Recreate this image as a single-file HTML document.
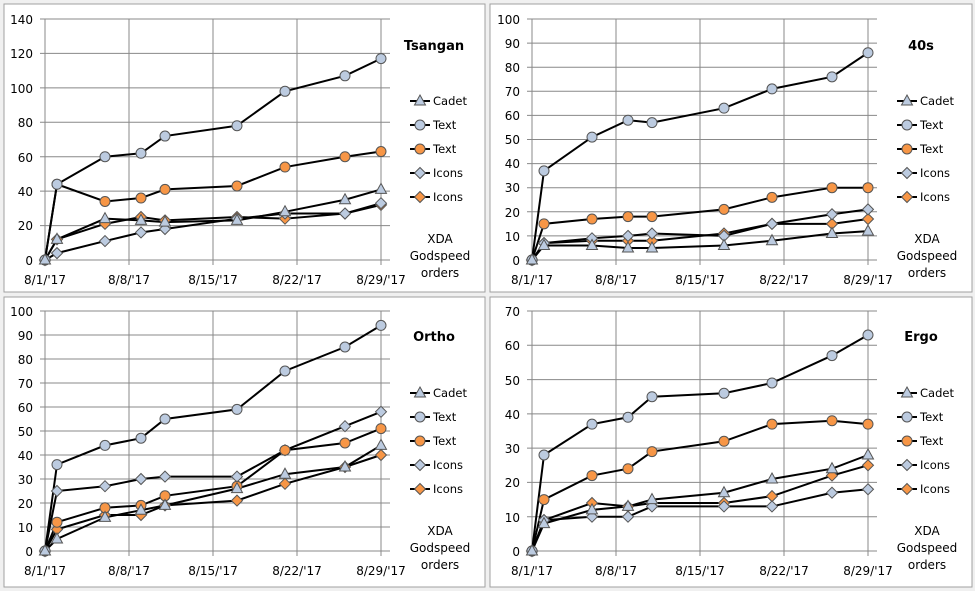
<!DOCTYPE html>
<html><head><meta charset="utf-8"><style>
body{margin:0;background:#f0f0f0;width:975px;height:591px;overflow:hidden}
svg{display:block;font-family:"DejaVu Sans","Liberation Sans",sans-serif}
</style></head><body>
<svg id="s" width="975" height="591" xmlns="http://www.w3.org/2000/svg">
<rect x="4" y="4" width="481" height="288" fill="#fff" stroke="#a0a0a0"/>
<rect x="490" y="4" width="482" height="288" fill="#fff" stroke="#a0a0a0"/>
<rect x="4" y="297" width="481" height="290" fill="#fff" stroke="#a0a0a0"/>
<rect x="490" y="297" width="482" height="290" fill="#fff" stroke="#a0a0a0"/>
<g font-size="13" font-weight="bold" text-anchor="middle">
<text x="434" y="50">Tsangan</text><text x="921" y="50">40s</text>
<text x="434" y="341">Ortho</text><text x="921" y="341">Ergo</text>
</g>
<g font-size="12" text-anchor="middle" fill="#000">
<text x="440" y="243">XDA</text><text x="440" y="260">Godspeed</text><text x="440" y="277">orders</text>
<text x="927" y="243">XDA</text><text x="927" y="260">Godspeed</text><text x="927" y="277">orders</text>
<text x="440" y="535">XDA</text><text x="440" y="552">Godspeed</text><text x="440" y="569">orders</text>
<text x="927" y="535">XDA</text><text x="927" y="552">Godspeed</text><text x="927" y="569">orders</text>
</g>
<g font-size="11.5">
<text x="433" y="105">Cadet</text><text x="433" y="129">Text</text><text x="433" y="153">Text</text><text x="433" y="177">Icons</text><text x="433" y="201">Icons</text>
<text x="920" y="105">Cadet</text><text x="920" y="129">Text</text><text x="920" y="153">Text</text><text x="920" y="177">Icons</text><text x="920" y="201">Icons</text>
<text x="433" y="397">Cadet</text><text x="433" y="421">Text</text><text x="433" y="445">Text</text><text x="433" y="469">Icons</text><text x="433" y="493">Icons</text>
<text x="920" y="397">Cadet</text><text x="920" y="421">Text</text><text x="920" y="445">Text</text><text x="920" y="469">Icons</text><text x="920" y="493">Icons</text>
</g>
<g font-size="12" text-anchor="middle">
<text x="45" y="284">8/1/'17</text><text x="129" y="284">8/8/'17</text><text x="213" y="284">8/15/'17</text><text x="297" y="284">8/22/'17</text><text x="381" y="284">8/29/'17</text>
<text x="532" y="284">8/1/'17</text><text x="616" y="284">8/8/'17</text><text x="700" y="284">8/15/'17</text><text x="784" y="284">8/22/'17</text><text x="868" y="284">8/29/'17</text>
<text x="45" y="575">8/1/'17</text><text x="129" y="575">8/8/'17</text><text x="213" y="575">8/15/'17</text><text x="297" y="575">8/22/'17</text><text x="381" y="575">8/29/'17</text>
<text x="532" y="575">8/1/'17</text><text x="616" y="575">8/8/'17</text><text x="700" y="575">8/15/'17</text><text x="784" y="575">8/22/'17</text><text x="868" y="575">8/29/'17</text>
</g>
<g font-size="12" text-anchor="end">
<text x="33" y="24">140</text><text x="33" y="58">120</text><text x="33" y="93">100</text><text x="33" y="127">80</text><text x="33" y="162">60</text><text x="33" y="196">40</text><text x="33" y="230">20</text><text x="33" y="265">0</text>
<text x="520" y="24">100</text><text x="520" y="48">90</text><text x="520" y="72">80</text><text x="520" y="96">70</text><text x="520" y="120">60</text><text x="520" y="144">50</text><text x="520" y="168">40</text><text x="520" y="192">30</text><text x="520" y="217">20</text><text x="520" y="241">10</text><text x="520" y="265">0</text>
<text x="33" y="316">100</text><text x="33" y="340">90</text><text x="33" y="364">80</text><text x="33" y="388">70</text><text x="33" y="412">60</text><text x="33" y="436">50</text><text x="33" y="460">40</text><text x="33" y="484">30</text><text x="33" y="508">20</text><text x="33" y="532">10</text><text x="33" y="556">0</text>
<text x="520" y="316">70</text><text x="520" y="350">60</text><text x="520" y="385">50</text><text x="520" y="419">40</text><text x="520" y="453">30</text><text x="520" y="487">20</text><text x="520" y="522">10</text><text x="520" y="556">0</text>
</g>
<g id="plots"></g>
</svg>
<script>
var NS="http://www.w3.org/2000/svg",G=document.getElementById('plots');
function el(t,a){var e=document.createElementNS(NS,t);for(var k in a)e.setAttribute(k,a[k]);G.appendChild(e);return e;}
var days=[0,1,5,8,10,16,20,25,28];
var BL="#bccbe0",OR="#f79646";
function marker(type,fill,x,y){
 var st={fill:fill,stroke:"#555","stroke-width":1};
 if(type=='c'){st.cx=x;st.cy=y;st.r=5;el('circle',st);}
 else if(type=='t'){st.points=(x)+','+(y-6)+' '+(x+5.5)+','+(y+4)+' '+(x-5.5)+','+(y+4);el('polygon',st);}
 else {st.points=x+','+(y-5.5)+' '+(x+5.5)+','+y+' '+x+','+(y+5.5)+' '+(x-5.5)+','+y;el('polygon',st);}
}
function panel(ox,top,bot,ymax,step,ly,series){
 var x0=ox+45;
 for(var v=0;v<=ymax;v+=step){var y=bot-(bot-top)*v/ymax;el('line',{x1:x0-5,x2:x0+345,y1:y,y2:y,stroke:"#888"});}
 for(var d=0;d<=28;d+=7){var x=x0+d*12;el('line',{x1:x,x2:x,y1:top,y2:bot+5,stroke:"#888"});}
 el('line',{x1:x0,x2:x0,y1:top,y2:bot,stroke:"#888"});
 var spec=[['t',BL],['c',BL],['c',OR],['d',BL],['d',OR]];
 series.forEach(function(s,i){
  var pts=s.map(function(v,j){return [x0+days[j]*12,bot-(bot-top)*v/ymax];});
  el('polyline',{points:pts.map(function(p){return p.join(',')}).join(' '),fill:"none",stroke:"#000","stroke-width":2});
 });
 [4,3,2,1,0].forEach(function(i){var s=series[i];s.forEach(function(v,j){marker(spec[i][0],spec[i][1],x0+days[j]*12,bot-(bot-top)*v/ymax);});});
 spec.forEach(function(sp,i){var y=ly+i*24;el('line',{x1:ox+410,x2:ox+430,y1:y,y2:y,stroke:"#000","stroke-width":2});marker(sp[0],sp[1],ox+420,y);});
}
panel(0,19,260,140,20,101,[[0,12,24,23,22,23,28,35,41],[0,44,60,62,72,78,98,107,117],[0,44,34,36,41,43,54,60,63],[0,4,11,16,18,24,27,27,33],[0,12,21,25,23,25,24,27,32]]);
panel(487,19,260,100,10,101,[[0,6,6,5,5,6,8,11,12],[0,37,51,58,57,63,71,76,86],[0,15,17,18,18,21,26,30,30],[0,7,9,10,11,10,15,19,21],[0,7,8,8,8,11,15,15,17]]);
panel(0,311,551,100,10,393,[[0,5,14,17,19,26,32,35,44],[0,36,44,47,55,59,75,85,94],[0,12,18,19,23,27,42,45,51],[0,25,27,30,31,31,42,52,58],[0,9,15,15,19,21,28,35,40]]);
panel(487,311,551,70,10,393,[[0,8,12,13,15,17,21,24,28],[0,28,37,39,45,46,49,57,63],[0,15,22,24,29,32,37,38,37],[0,9,10,10,13,13,13,17,18],[0,9,14,13,14,14,16,22,25]]);
</script>
</body></html>
